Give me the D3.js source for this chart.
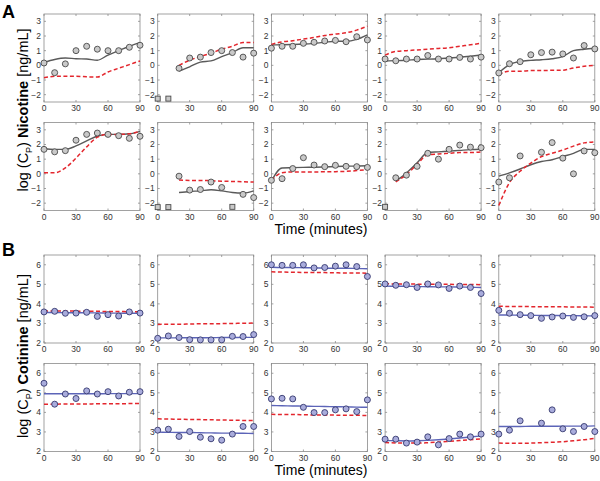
<!DOCTYPE html>
<html lang="en">
<head>
<meta charset="utf-8">
<title>Nicotine and cotinine fits</title>
<script src="https://cdn.jsdelivr.net/npm/d3@7"></script>
<style>
  body { margin: 0; background: #fff; }
  svg { font-family: "Liberation Sans", Arial, sans-serif; display: block; }
</style>
</head>
<body>
<svg id="chart"></svg>
<script>
const times = [0, 10, 20, 30, 40, 50, 60, 70, 80, 90]
const timeTicks = [0, 30, 60, 90]
const nicotineTicks = [-2, -1, 0, 1, 2, 3]
const cotinineTicks = [2, 3, 4, 5, 6]

// observed log concentrations, one array per subject (null = not measured)
const nicotineObs = [
    [0.16, -0.5, 0.1, 1.0, 1.3, 1.1, 1.0, 1.0, 1.23, 1.37],
    [null, null, -0.2, 0.5, 0.56, 0.87, 1.0, 0.87, 0.56, 0.83],
    [1.17, 1.3, 1.3, 1.5, 1.57, 1.66, 1.7, 1.61, 1.95, 1.73],
    [0.43, 0.31, 0.43, 0.43, 0.67, 0.43, 0.43, 0.54, 0.43, 0.56],
    [-0.52, 0.11, 0.25, 0.72, 0.87, 0.9, 0.78, 0.5, 1.35, 1.12],
    [1.67, 1.5, 1.58, 2.29, 2.69, 2.78, 2.69, 2.6, 2.42, 2.56],
    [null, null, -0.16, -1.11, -1.07, -0.56, -0.93, null, -1.4, -1.62],
    [-0.44, -0.33, 0.36, 1.1, 0.6, 0.49, 0.58, 0.51, 0.49, 0.44],
    [null, -0.27, -0.09, 0.51, 1.4, 1.0, 1.67, 1.96, 1.82, 1.78],
    [-0.56, -0.27, 1.22, null, 1.47, 2.13, 1.07, 0.0, 1.56, 1.44]
]
// below quantification limit (squares)
const nicotineBlq = [
    [], [-2.27, -2.27, null, null, null, null, null, null, null, null], [], [], [],
    [], [-2.27, -2.27, null, null, null, null, null, -2.25, null, null], [],
    [-2.25, null, null, null, null, null, null, null, null, null], []
]
const nicotineFit = [
    [0.2, 0.4, 0.5, 0.45, 0.43, 0.35, 0.7, 1.0, 1.3, 1.55],
    [null, null, -0.4, -0.1, 0.22, 0.3, 0.6, 0.87, 1.2, 1.2],
    [1.39, 1.4, 1.42, 1.45, 1.5, 1.57, 1.64, 1.64, 1.77, 2.08],
    [0.3, 0.32, 0.35, 0.4, 0.42, 0.45, 0.5, 0.55, 0.62, 0.7],
    [-0.5, 0.05, 0.27, 0.34, 0.38, 0.45, 0.6, 1.0, 1.1, 1.17],
    [1.73, 1.67, 1.67, 1.9, 2.24, 2.58, 2.69, 2.69, 2.73, 2.9],
    [null, null, -1.27, -1.2, -1.16, -1.09, -1.16, -1.27, -1.31, -1.16],
    [-0.49, 0.4, 0.42, 0.44, 0.45, 0.47, 0.5, 0.52, 0.53, 0.55],
    [null, -0.5, 0.05, 0.75, 1.45, 1.5, 1.55, 1.6, 1.65, 1.68],
    [-0.16, 0.07, 0.33, 0.62, 0.84, 0.96, 1.18, 1.4, 1.67, 1.67]
]
const nicotinePred = [
    [-0.85, -0.75, -0.75, -0.75, -0.78, -0.8, -0.45, -0.2, 0.05, 0.3],
    [null, null, 0.0, 0.35, 0.6, 0.83, 1.1, 1.3, 1.55, 1.55],
    [1.43, 1.6, 1.68, 1.79, 1.9, 2.04, 2.13, 2.22, 2.4, 2.67],
    [0.7, 0.95, 1.0, 1.05, 1.1, 1.15, 1.2, 1.3, 1.4, 1.5],
    [-0.63, -0.4, -0.4, -0.36, -0.36, -0.34, -0.33, -0.18, -0.07, 0.0],
    [0.07, 0.07, 0.4, 1.07, 1.84, 2.5, 2.69, 2.69, 2.73, 2.9],
    [null, null, -0.42, -0.45, -0.45, -0.47, -0.5, -0.52, -0.54, -0.56],
    [-0.44, 0.07, 0.13, 0.13, 0.13, 0.14, 0.15, 0.17, 0.22, 0.29],
    [null, -0.55, -0.05, 0.65, 1.3, 1.35, 1.4, 1.45, 1.45, 1.5],
    [-2.16, -0.6, 0.18, 0.73, 1.18, 1.4, 1.62, 1.89, 2.11, 2.18]
]

const cotinineObs = [
    [3.59, 3.62, 3.52, 3.53, 3.57, 3.36, 3.45, 3.38, 3.59, 3.53],
    [2.24, 2.36, 2.28, 2.17, 2.16, 2.16, 2.16, 2.34, 2.33, 2.43],
    [6.0, 5.97, 5.97, 6.0, 5.84, 5.86, 5.93, 6.0, 5.91, 5.4],
    [5.02, 4.95, 4.98, 4.84, 5.02, 4.97, 4.79, 4.91, 4.84, 4.53],
    [3.67, 3.52, 3.45, 3.4, 3.26, 3.33, 3.38, 3.31, 3.34, 3.4],
    [5.49, 4.42, 4.94, 4.71, 5.1, 4.94, 5.06, 4.84, 5.03, 5.06],
    [3.09, 3.14, 2.77, 3.02, 2.73, 2.65, 2.58, 2.89, 3.28, 3.28],
    [4.69, 4.72, 4.69, 4.26, 3.99, 3.99, 4.13, 4.18, 4.04, 4.64],
    [2.63, 2.63, 2.43, 2.48, 2.75, 2.34, 2.66, 2.89, 2.75, 2.89],
    [2.89, 3.09, 3.57, null, 3.45, 4.13, 3.16, 3.02, 3.28, 3.02]
]
const cotinineFit = [
    [3.56, 3.56, 3.55, 3.55, 3.54, 3.54, 3.53, 3.53, 3.52, 3.52],
    [2.26, 2.26, 2.26, 2.27, 2.27, 2.27, 2.28, 2.28, 2.29, 2.29],
    [5.87, 5.86, 5.86, 5.85, 5.84, 5.83, 5.82, 5.82, 5.81, 5.8],
    [4.91, 4.9, 4.9, 4.89, 4.88, 4.87, 4.87, 4.86, 4.85, 4.84],
    [3.43, 3.43, 3.42, 3.42, 3.41, 3.41, 3.4, 3.4, 3.39, 3.38],
    [4.95, 4.95, 4.95, 4.95, 4.95, 4.95, 4.96, 4.96, 4.96, 4.96],
    [2.99, 2.98, 2.97, 2.97, 2.96, 2.95, 2.94, 2.94, 2.93, 2.92],
    [4.35, 4.34, 4.33, 4.32, 4.31, 4.3, 4.29, 4.28, 4.27, 4.26],
    [2.56, 2.55, 2.54, 2.55, 2.57, 2.6, 2.64, 2.69, 2.74, 2.8],
    [3.28, 3.28, 3.28, 3.29, 3.29, 3.29, 3.3, 3.3, 3.3, 3.31]
]
const cotininePred = [
    [3.64, 3.64, 3.63, 3.63, 3.62, 3.62, 3.61, 3.61, 3.6, 3.6],
    [2.95, 2.96, 2.96, 2.97, 2.98, 2.98, 2.99, 3.0, 3.01, 3.02],
    [5.64, 5.63, 5.62, 5.61, 5.61, 5.6, 5.59, 5.58, 5.58, 5.57],
    [5.03, 5.02, 5.02, 5.01, 5.01, 5.0, 5.0, 4.99, 4.99, 4.98],
    [3.88, 3.87, 3.87, 3.86, 3.86, 3.85, 3.85, 3.84, 3.84, 3.83],
    [4.42, 4.42, 4.43, 4.43, 4.43, 4.44, 4.44, 4.44, 4.45, 4.45],
    [3.67, 3.66, 3.65, 3.64, 3.63, 3.62, 3.61, 3.6, 3.59, 3.58],
    [3.9, 3.89, 3.89, 3.88, 3.87, 3.87, 3.86, 3.85, 3.85, 3.84],
    [2.46, 2.44, 2.43, 2.43, 2.45, 2.48, 2.52, 2.56, 2.6, 2.65],
    [2.43, 2.42, 2.42, 2.43, 2.45, 2.47, 2.5, 2.55, 2.6, 2.67]
]

const width = 600
const height = 481
const panelW = 96
const panelH = 88
const colLeft = i => 44 + i * 113.7

const svg = d3.select("#chart")
    .attr("width", width)
    .attr("height", height)
    .attr("viewBox", [0, 0, width, height])

const drawPanel = (left, top, yDomain, yTicks, obs, blq, fit, pred, style) => {
    const x = d3.scaleLinear().domain([0, 90]).range([left, left + panelW])
    const y = d3.scaleLinear().domain(yDomain).range([top + panelH, top])
    const g = svg.append("g")

    // box and inward ticks on all sides
    g.append("rect")
        .attr("x", left).attr("y", top)
        .attr("width", panelW).attr("height", panelH)
        .attr("fill", "#fff").attr("stroke", "#8a8a8a").attr("stroke-width", 0.8)

    const tickLen = 2
    g.append("g").attr("stroke", "#8a8a8a").attr("stroke-width", 0.8)
        .selectAll("line")
        .data(timeTicks.flatMap(t => [[t, top + panelH, -tickLen], [t, top, tickLen]]))
        .join("line")
        .attr("x1", d => x(d[0])).attr("x2", d => x(d[0]))
        .attr("y1", d => d[1]).attr("y2", d => d[1] + d[2])
    g.append("g").attr("stroke", "#8a8a8a").attr("stroke-width", 0.8)
        .selectAll("line")
        .data(yTicks.flatMap(t => [[t, left, tickLen], [t, left + panelW, -tickLen]]))
        .join("line")
        .attr("y1", d => y(d[0])).attr("y2", d => y(d[0]))
        .attr("x1", d => d[1]).attr("x2", d => d[1] + d[2])

    g.append("g")
        .attr("font-size", 8.5).attr("fill", "#333").attr("text-anchor", "middle")
        .selectAll("text")
        .data(timeTicks)
        .join("text")
        .attr("x", d => x(d)).attr("y", top + panelH + 9)
        .text(d => d)
    g.append("g")
        .attr("font-size", 8.5).attr("fill", "#333").attr("text-anchor", "end")
        .selectAll("text")
        .data(yTicks)
        .join("text")
        .attr("x", left - 3).attr("y", d => y(d)).attr("dy", "0.35em")
        .text(d => d < 0 ? "\u2212" + Math.abs(d) : d)

    const line = d3.line()
        .defined(d => d[1] !== null)
        .x(d => x(d[0])).y(d => y(d[1]))
        .curve(d3.curveMonotoneX)

    g.append("path")
        .attr("d", line(times.map((t, i) => [t, fit[i]])))
        .attr("fill", "none").attr("stroke", style.line).attr("stroke-width", 1.4)

    g.append("path")
        .attr("d", line(times.map((t, i) => [t, pred[i]])))
        .attr("fill", "none").attr("stroke", "#e3262d").attr("stroke-width", 1.5)
        .attr("stroke-dasharray", "4,2.5")

    g.append("g")
        .selectAll("circle")
        .data(times.map((t, i) => [t, obs[i]]).filter(d => d[1] !== null))
        .join("circle")
        .attr("cx", d => x(d[0])).attr("cy", d => y(d[1])).attr("r", 3)
        .attr("fill", style.fill).attr("stroke", style.stroke).attr("stroke-width", 0.9)

    g.append("g")
        .selectAll("rect")
        .data(times.map((t, i) => [t, blq[i] ?? null]).filter(d => d[1] !== null))
        .join("rect")
        .attr("x", d => x(d[0]) - 2.5).attr("y", d => y(d[1]) - 2.5)
        .attr("width", 5).attr("height", 5)
        .attr("fill", style.fill).attr("stroke", style.stroke).attr("stroke-width", 0.9)
}

const nicStyle = {line: "#5a5a5a", fill: "#c9c9c9", stroke: "#4a4a4a"}
const cotStyle = {line: "#5c64b8", fill: "#a9acdc", stroke: "#34386e"}

const rowTops = [14, 122.5, 255, 363.5]

nicotineObs.forEach((obs, i) => {
    const row = Math.floor(i / 5), col = i % 5
    drawPanel(colLeft(col), rowTops[row], [-2.5, 3.5], nicotineTicks,
        obs, nicotineBlq[i], nicotineFit[i], nicotinePred[i], nicStyle)
})
cotinineObs.forEach((obs, i) => {
    const row = Math.floor(i / 5), col = i % 5
    drawPanel(colLeft(col), rowTops[2 + row], [2, 6.5], cotinineTicks,
        obs, [], cotinineFit[i], cotininePred[i], cotStyle)
})

// panel letters
svg.append("text").attr("x", 2).attr("y", 18)
    .attr("font-size", 18).attr("font-weight", "bold").text("A")
svg.append("text").attr("x", 2).attr("y", 256)
    .attr("font-size", 18).attr("font-weight", "bold").text("B")

// x labels
;[234, 475].forEach(yy => {
    svg.append("text").attr("x", 321).attr("y", yy)
        .attr("text-anchor", "middle").attr("font-size", 14)
        .text("Time (minutes)")
})

// y labels with subscript
const yLabel = (cy, compound) => {
    const t = svg.append("text")
        .attr("transform", `translate(28,${cy}) rotate(-90)`)
        .attr("text-anchor", "middle").attr("font-size", 14.5)
    t.append("tspan").text("log (C")
    t.append("tspan").attr("font-size", 9).attr("dy", 3.5).text("P")
    t.append("tspan").attr("dy", -3.5).text(") ")
    t.append("tspan").attr("font-weight", "bold").text(compound)
    t.append("tspan").text(" [ng/mL]")
}
yLabel(110, "Nicotine")
yLabel(356, "Cotinine")
</script>
</body>
</html>
